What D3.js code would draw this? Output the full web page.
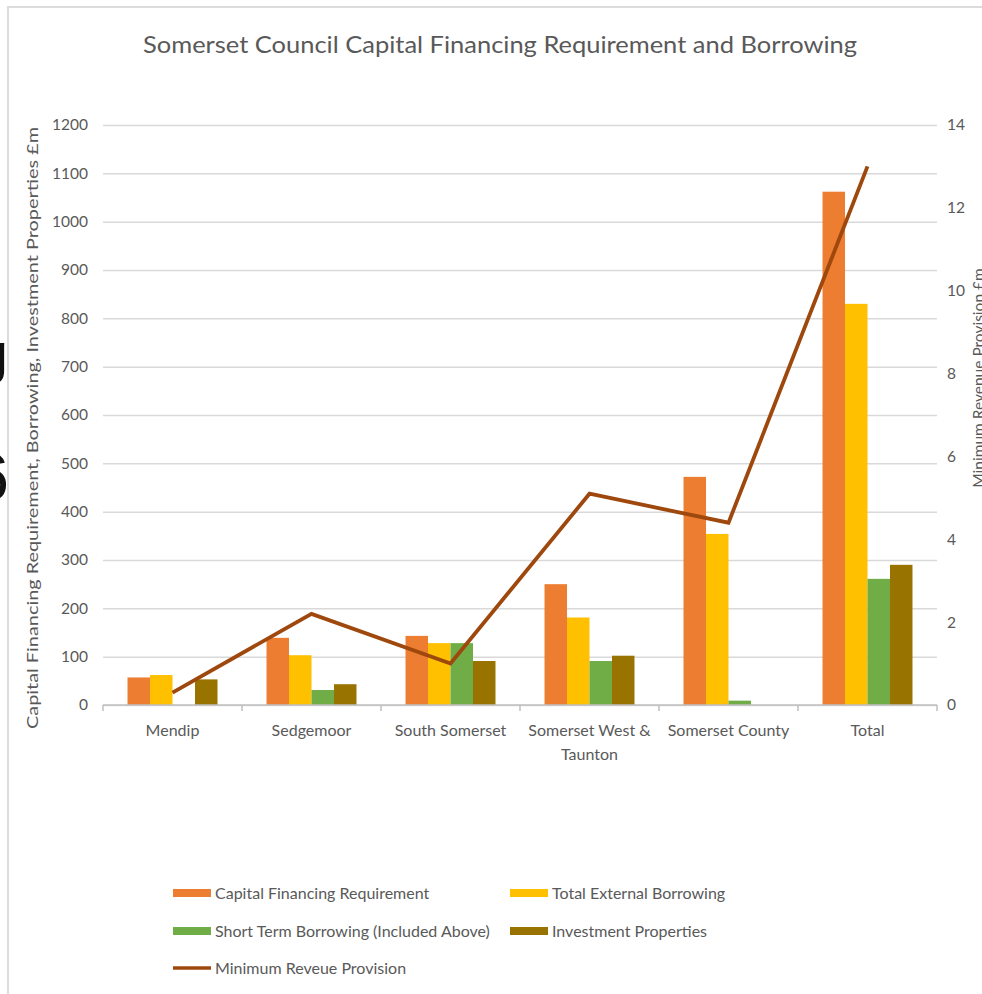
<!DOCTYPE html>
<html>
<head>
<meta charset="utf-8">
<script src="https://cdn.jsdelivr.net/npm/d3@7"></script>
<style>
  html, body { margin: 0; padding: 0; background: #fff; }
  svg { display: block; font-family: Lato, "Open Sans", sans-serif; }
</style>
</head>
<body>
<svg id="chart" width="982" height="994"></svg>
<script>
// values (£m)
const categories = ['Mendip', 'Sedgemoor', 'South Somerset', 'Somerset West & Taunton', 'Somerset County', 'Total']
const capitalFinancing = [57, 139, 143, 250, 472, 1062]
const externalBorrowing = [62, 103, 128, 181, 354, 830]
const shortTermBorrowing = [0, 31, 128, 91, 9, 261]
const investmentProperties = [53, 43, 91, 102, 0, 290]
const minimumRevenue = [0.3, 2.2, 1.0, 5.1, 4.4, 13.0]

const leftTicks = [0, 100, 200, 300, 400, 500, 600, 700, 800, 900, 1000, 1100, 1200]
const rightTicks = [0, 2, 4, 6, 8, 10, 12, 14]

const barSeries = [
  {name: 'Capital Financing Requirement', values: capitalFinancing, color: '#ED7D31'},
  {name: 'Total External Borrowing', values: externalBorrowing, color: '#FFC000'},
  {name: 'Short Term Borrowing (Included Above)', values: shortTermBorrowing, color: '#70AD47'},
  {name: 'Investment Properties', values: investmentProperties, color: '#997300'}
]
const lineName = 'Minimum Reveue Provision'
const lineColor = '#9E480E'

const textColor = '#595959'
const gridColor = '#d9d9d9'

const margin = {top: 125, right: 45, bottom: 289, left: 103}
const width = 982 - margin.left - margin.right
const height = 994 - margin.top - margin.bottom

const svg = d3.select('#chart')

// outer frame of the pasted chart
svg.append('path')
  .attr('d', 'M8,994 L8,7 L982,7')
  .attr('fill', 'none')
  .attr('stroke', '#dcdcdc')
  .attr('stroke-width', 2)

// cropped black glyphs at the far left edge
svg.append('text').attr('x', 8).attr('y', 372).attr('text-anchor', 'end')
  .attr('font-family', 'Liberation Sans').attr('font-size', 56).attr('fill', '#111').text('g')
svg.append('text').attr('x', 9).attr('y', 500).attr('text-anchor', 'end')
  .attr('font-family', 'Liberation Sans').attr('font-size', 66).attr('fill', '#111').text('6')

svg.append('text')
  .attr('x', 500)
  .attr('y', 53)
  .attr('text-anchor', 'middle')
  .attr('font-size', 23)
  .attr('fill', textColor)
  .attr('textLength', 714)
  .attr('lengthAdjust', 'spacingAndGlyphs')
  .text('Somerset Council Capital Financing Requirement and Borrowing')

const g = svg.append('g').attr('transform', `translate(${margin.left},${margin.top})`)

const x0 = d3.scaleBand().domain(categories).range([0, width]).paddingInner(0).paddingOuter(0)
const x1 = d3.scaleBand().domain(barSeries.map(d => d.name)).range([0, x0.bandwidth()])
  .paddingInner(0).paddingOuter(1.09)
const yLeft = d3.scaleLinear().domain([0, 1200]).range([height, 0])
const yRight = d3.scaleLinear().domain([0, 14]).range([height, 0])

// gridlines
g.append('g')
  .attr('class', 'grid')
  .call(d3.axisLeft(yLeft).tickValues(leftTicks).tickSize(-width).tickFormat(''))
  .call(s => s.select('.domain').remove())
  .call(s => s.selectAll('line').attr('stroke', gridColor).attr('stroke-width', 1.5))

// left axis labels
g.append('g')
  .call(d3.axisLeft(yLeft).tickValues(leftTicks).tickSize(0).tickPadding(15).tickFormat(d3.format('d')))
  .call(s => s.select('.domain').remove())
  .call(s => s.selectAll('text').attr('fill', textColor).attr('font-size', 15.5)
    .attr('font-family', 'Lato, sans-serif'))

// right axis labels
g.append('g')
  .attr('transform', `translate(${width},0)`)
  .call(d3.axisRight(yRight).tickValues(rightTicks).tickSize(0).tickPadding(10))
  .call(s => s.select('.domain').remove())
  .call(s => s.selectAll('text').attr('fill', textColor).attr('font-size', 15.5)
    .attr('font-family', 'Lato, sans-serif'))

// bars
const groups = g.selectAll('.cat')
  .data(categories)
  .join('g')
  .attr('class', 'cat')
  .attr('transform', d => `translate(${x0(d)},0)`)

groups.selectAll('rect')
  .data((d, i) => barSeries.map(s => ({name: s.name, value: s.values[i], color: s.color})))
  .join('rect')
  .attr('x', d => x1(d.name))
  .attr('y', d => yLeft(d.value))
  .attr('width', x1.bandwidth())
  .attr('height', d => height - yLeft(d.value))
  .attr('fill', d => d.color)

// category axis
const bottom = g.append('g').attr('transform', `translate(0,${height})`)
bottom.append('line').attr('x1', 0).attr('x2', width).attr('stroke', '#bfbfbf').attr('stroke-width', 1.5)
bottom.selectAll('.tick')
  .data(d3.range(categories.length + 1))
  .join('line')
  .attr('x1', i => i * x0.step())
  .attr('x2', i => i * x0.step())
  .attr('y1', 0)
  .attr('y2', 6)
  .attr('stroke', '#bfbfbf')
  .attr('stroke-width', 1.5)

const catLabels = bottom.selectAll('.catlabel')
  .data(categories)
  .join('text')
  .attr('class', 'catlabel')
  .attr('x', d => x0(d) + x0.bandwidth() / 2)
  .attr('y', 31)
  .attr('text-anchor', 'middle')
  .attr('font-size', 16)
  .attr('fill', textColor)

catLabels.each(function (d) {
  const t = d3.select(this)
  const parts = d === 'Somerset West & Taunton' ? ['Somerset West &', 'Taunton'] : [d]
  parts.forEach((p, i) => {
    t.append('tspan').attr('x', x0(d) + x0.bandwidth() / 2).attr('dy', i === 0 ? 0 : 24).text(p)
  })
})

// line series on right axis
const line = d3.line()
  .x((d, i) => x0(categories[i]) + x0.bandwidth() / 2)
  .y(d => yRight(d))

g.append('path')
  .datum(minimumRevenue)
  .attr('d', line)
  .attr('fill', 'none')
  .attr('stroke', lineColor)
  .attr('stroke-width', 3.8)
  .attr('stroke-linejoin', 'miter')

// axis titles
svg.append('text')
  .attr('transform', 'translate(38,428) rotate(-90)')
  .attr('text-anchor', 'middle')
  .attr('font-size', 15.5)
  .attr('fill', textColor)
  .attr('textLength', 602)
  .attr('lengthAdjust', 'spacingAndGlyphs')
  .text('Capital Financing Requirement, Borrowing, Investment Properties £m')

svg.append('text')
  .attr('transform', 'translate(984,378) rotate(-90)')
  .attr('text-anchor', 'middle')
  .attr('font-size', 15.5)
  .attr('fill', textColor)
  .text('Minimum Revenue Provision £m')

// legend
const legendItems = barSeries.map(s => ({name: s.name, color: s.color, type: 'bar'}))
  .concat([{name: lineName, color: lineColor, type: 'line'}])
const legendCols = [173, 510]
const legendRows = [893, 931, 968]

const legend = svg.append('g')
  .selectAll('g')
  .data(legendItems)
  .join('g')
  .attr('transform', (d, i) => `translate(${legendCols[i % 2]},${legendRows[Math.floor(i / 2)]})`)

legend.filter(d => d.type === 'bar')
  .append('rect')
  .attr('x', 0).attr('y', -4).attr('width', 38).attr('height', 8)
  .attr('fill', d => d.color)
legend.filter(d => d.type === 'line')
  .append('line')
  .attr('x1', 0).attr('x2', 38).attr('y1', 0).attr('y2', 0)
  .attr('stroke', d => d.color).attr('stroke-width', 3.5)
legend.append('text')
  .attr('x', 42)
  .attr('y', 5.5)
  .attr('font-size', 16)
  .attr('fill', textColor)
  .text(d => d.name)
</script>
</body>
</html>
